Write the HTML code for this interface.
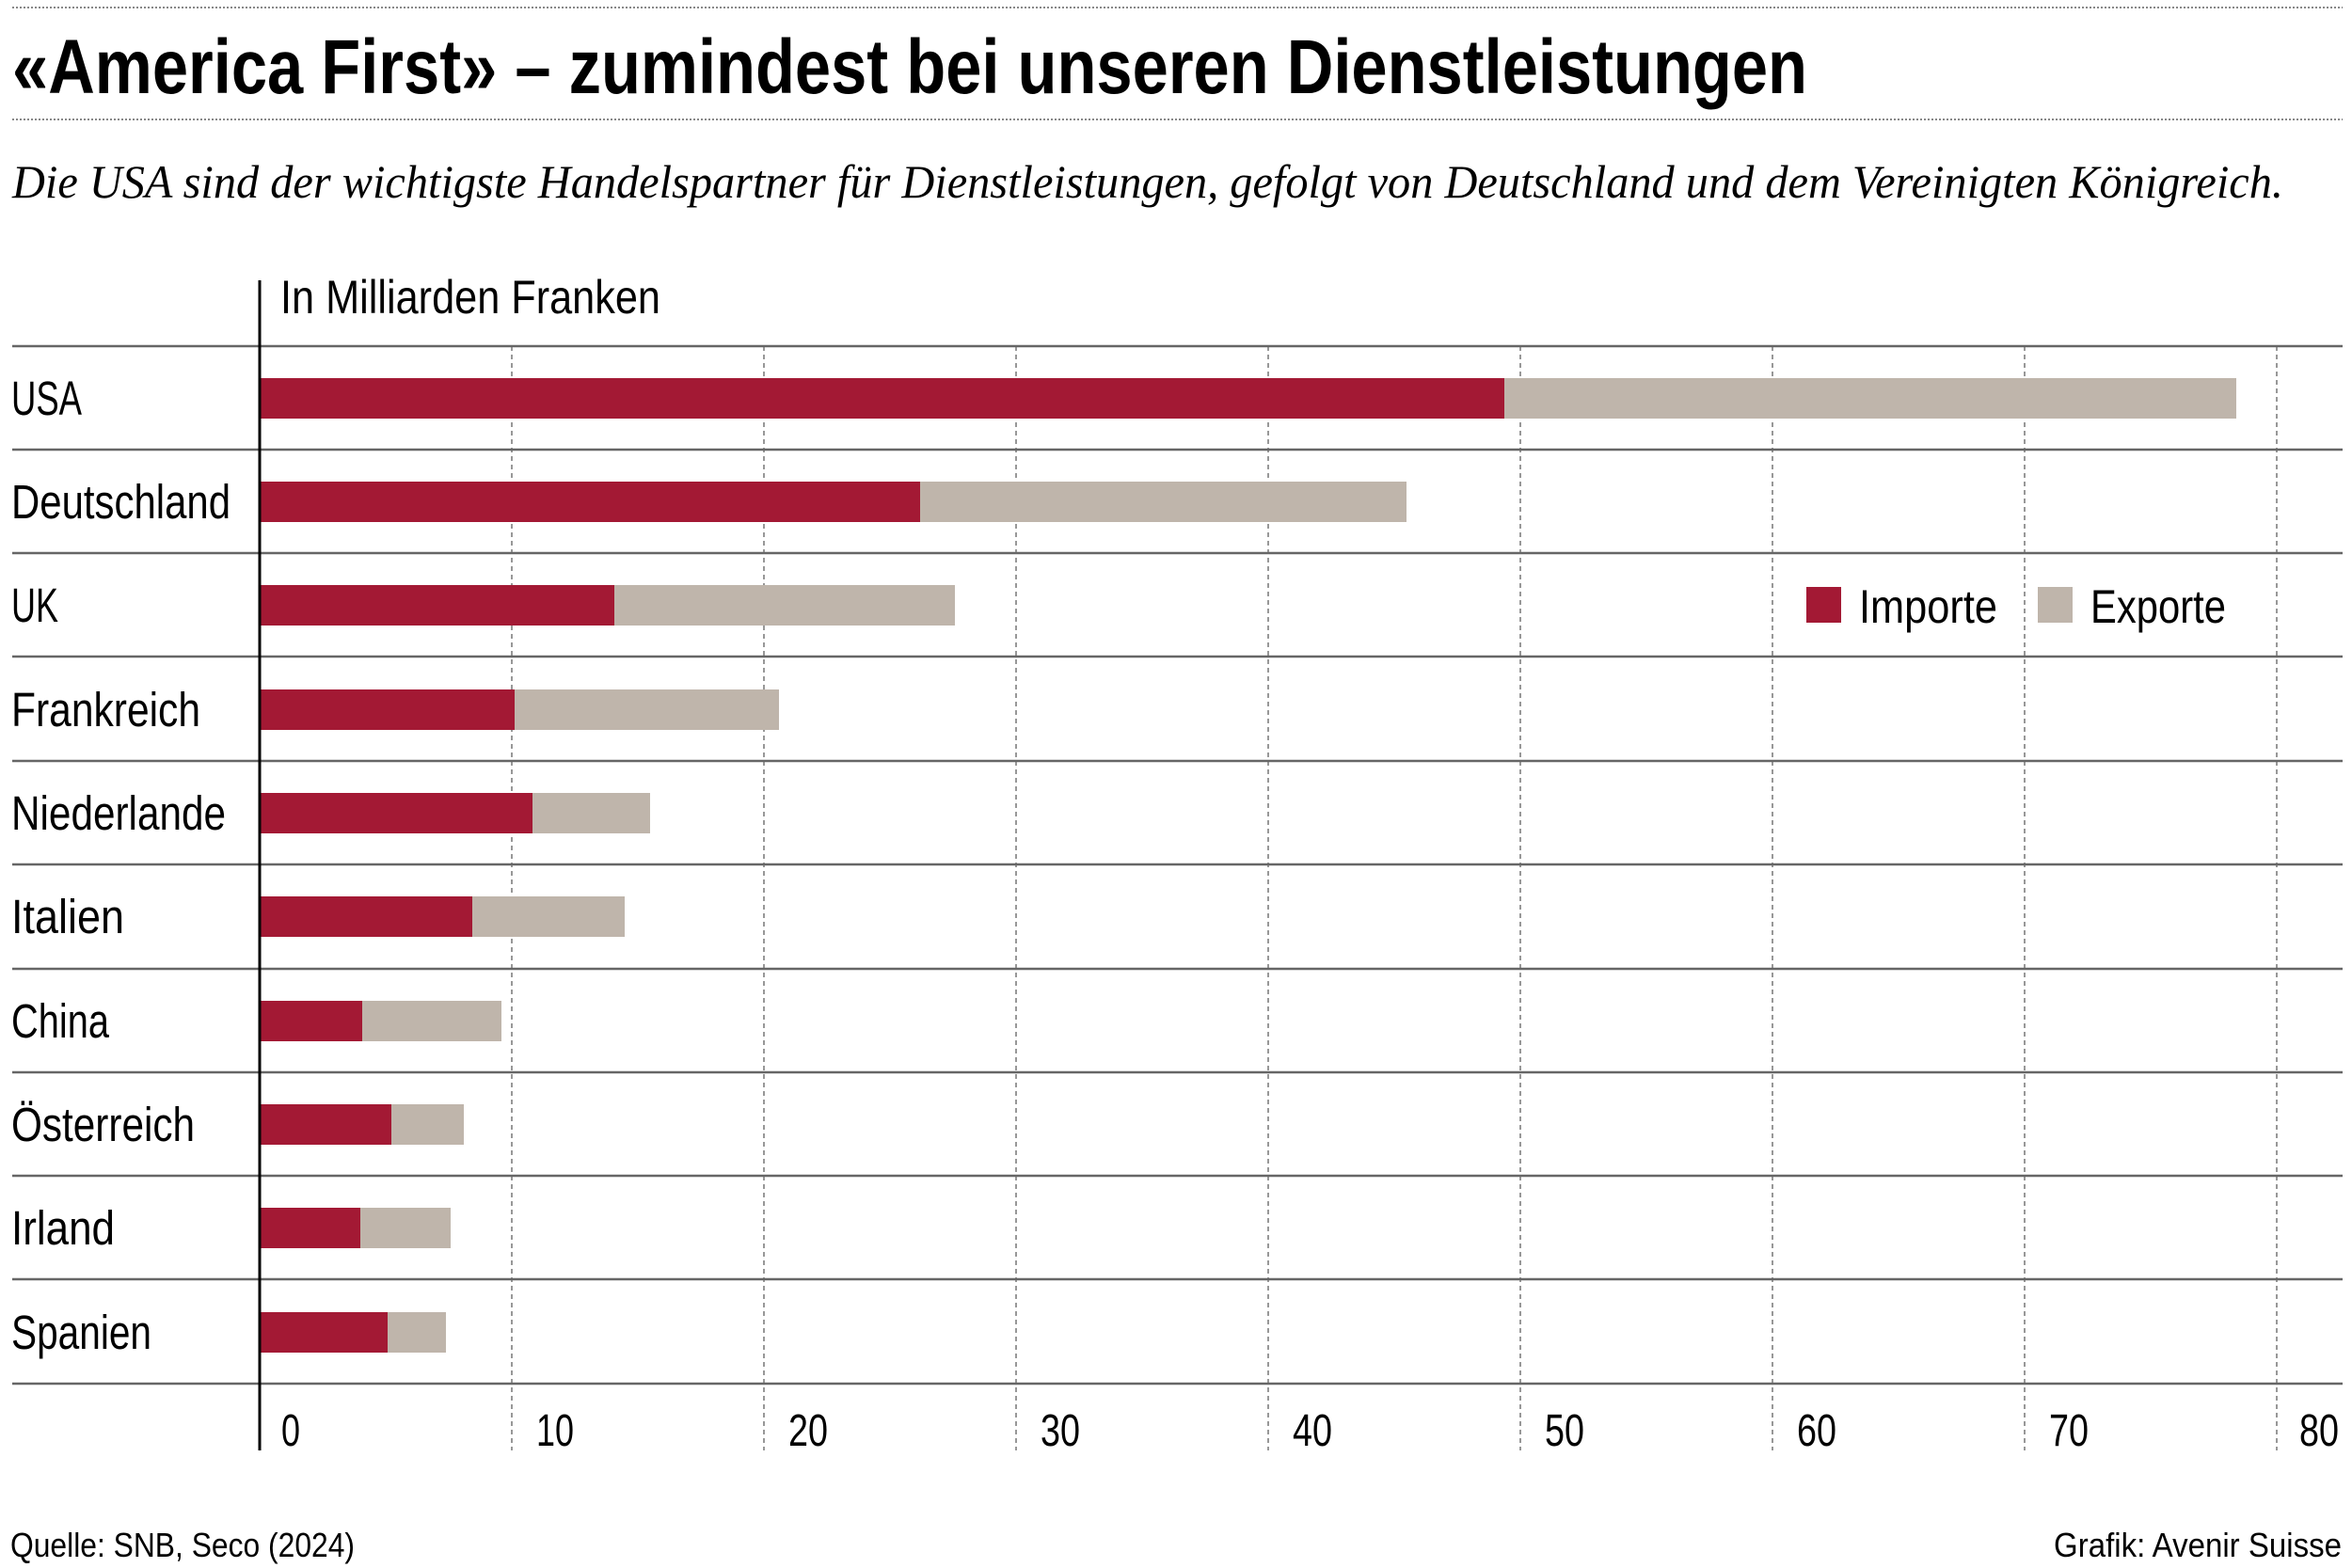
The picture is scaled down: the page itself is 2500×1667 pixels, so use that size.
<!DOCTYPE html>
<html><head><meta charset="utf-8"><style>
html,body{margin:0;padding:0;background:#fff;}
svg{display:block;}
.c{font-family:"Liberation Sans Narrow","Liberation Sans",sans-serif;fill:#000;}
</style></head><body>
<svg width="2500" height="1667" viewBox="0 0 2500 1667" xmlns="http://www.w3.org/2000/svg">
<line x1="13" y1="8" x2="2490" y2="8" stroke="#888" stroke-width="2" stroke-dasharray="2,2"/>
<text class="c" x="13" y="99" font-size="82" font-weight="bold" textLength="1908" lengthAdjust="spacingAndGlyphs">«America First» – zumindest bei unseren Dienstleistungen</text>
<line x1="13" y1="127" x2="2490" y2="127" stroke="#888" stroke-width="2" stroke-dasharray="2,2"/>
<text x="13" y="210" font-family="Liberation Serif,serif" font-style="italic" font-size="50" textLength="2414" lengthAdjust="spacingAndGlyphs">Die USA sind der wichtigste Handelspartner für Dienstleistungen, gefolgt von Deutschland und dem Vereinigten Königreich.</text>
<text class="c" x="298" y="333" font-size="50" textLength="404" lengthAdjust="spacingAndGlyphs">In Milliarden Franken</text>
<g stroke="#777" stroke-width="1.5" stroke-dasharray="5,4">
<line x1="544" y1="368" x2="544" y2="1542"/><line x1="812" y1="368" x2="812" y2="1542"/>
<line x1="1080" y1="368" x2="1080" y2="1542"/><line x1="1348" y1="368" x2="1348" y2="1542"/>
<line x1="1616" y1="368" x2="1616" y2="1542"/><line x1="1884" y1="368" x2="1884" y2="1542"/>
<line x1="2152" y1="368" x2="2152" y2="1542"/><line x1="2420" y1="368" x2="2420" y2="1542"/>
</g>
<g stroke="#666" stroke-width="2.5">
<line x1="13" y1="368" x2="2490" y2="368"/><line x1="13" y1="478" x2="2490" y2="478"/>
<line x1="13" y1="588" x2="2490" y2="588"/><line x1="13" y1="698" x2="2490" y2="698"/>
<line x1="13" y1="809" x2="2490" y2="809"/><line x1="13" y1="919" x2="2490" y2="919"/>
<line x1="13" y1="1030" x2="2490" y2="1030"/><line x1="13" y1="1140" x2="2490" y2="1140"/>
<line x1="13" y1="1250" x2="2490" y2="1250"/><line x1="13" y1="1360" x2="2490" y2="1360"/>
<line x1="13" y1="1471" x2="2490" y2="1471"/>
</g>
<g>
<rect x="276" y="402" width="1323" height="43" fill="#a31934"/><rect x="1599" y="402" width="778" height="43" fill="#bfb5ab"/>
<rect x="276" y="512" width="702" height="43" fill="#a31934"/><rect x="978" y="512" width="517" height="43" fill="#bfb5ab"/>
<rect x="276" y="622" width="377" height="43" fill="#a31934"/><rect x="653" y="622" width="362" height="43" fill="#bfb5ab"/>
<rect x="276" y="733" width="271" height="43" fill="#a31934"/><rect x="547" y="733" width="281" height="43" fill="#bfb5ab"/>
<rect x="276" y="843" width="290" height="43" fill="#a31934"/><rect x="566" y="843" width="125" height="43" fill="#bfb5ab"/>
<rect x="276" y="953" width="226" height="43" fill="#a31934"/><rect x="502" y="953" width="162" height="43" fill="#bfb5ab"/>
<rect x="276" y="1064" width="109" height="43" fill="#a31934"/><rect x="385" y="1064" width="148" height="43" fill="#bfb5ab"/>
<rect x="276" y="1174" width="140" height="43" fill="#a31934"/><rect x="416" y="1174" width="77" height="43" fill="#bfb5ab"/>
<rect x="276" y="1284" width="107" height="43" fill="#a31934"/><rect x="383" y="1284" width="96" height="43" fill="#bfb5ab"/>
<rect x="276" y="1395" width="136" height="43" fill="#a31934"/><rect x="412" y="1395" width="62" height="43" fill="#bfb5ab"/>
</g>
<line x1="276" y1="298" x2="276" y2="1542" stroke="#000" stroke-width="3"/>
<g class="c" font-size="51">
<text x="12" y="441" textLength="75" lengthAdjust="spacingAndGlyphs">USA</text>
<text x="12" y="551" textLength="233" lengthAdjust="spacingAndGlyphs">Deutschland</text>
<text x="12" y="661" textLength="50" lengthAdjust="spacingAndGlyphs">UK</text>
<text x="12" y="772" textLength="201" lengthAdjust="spacingAndGlyphs">Frankreich</text>
<text x="12" y="882" textLength="228" lengthAdjust="spacingAndGlyphs">Niederlande</text>
<text x="12" y="992" textLength="120" lengthAdjust="spacingAndGlyphs">Italien</text>
<text x="12" y="1103" textLength="104" lengthAdjust="spacingAndGlyphs">China</text>
<text x="12" y="1213" textLength="195" lengthAdjust="spacingAndGlyphs">Österreich</text>
<text x="12" y="1323" textLength="110" lengthAdjust="spacingAndGlyphs">Irland</text>
<text x="12" y="1434" textLength="149" lengthAdjust="spacingAndGlyphs">Spanien</text>
</g>
<g class="c" font-size="48">
<text x="299" y="1537" textLength="20" lengthAdjust="spacingAndGlyphs">0</text>
<text x="570" y="1537" textLength="40" lengthAdjust="spacingAndGlyphs">10</text>
<text x="838" y="1537" textLength="42" lengthAdjust="spacingAndGlyphs">20</text>
<text x="1106" y="1537" textLength="42" lengthAdjust="spacingAndGlyphs">30</text>
<text x="1374" y="1537" textLength="42" lengthAdjust="spacingAndGlyphs">40</text>
<text x="1642" y="1537" textLength="42" lengthAdjust="spacingAndGlyphs">50</text>
<text x="1910" y="1537" textLength="42" lengthAdjust="spacingAndGlyphs">60</text>
<text x="2178" y="1537" textLength="42" lengthAdjust="spacingAndGlyphs">70</text>
<text x="2444" y="1537" textLength="42" lengthAdjust="spacingAndGlyphs">80</text>
</g>
<rect x="1920" y="624" width="37" height="38" fill="#a31934"/>
<text class="c" x="1976" y="662" font-size="50" textLength="147" lengthAdjust="spacingAndGlyphs">Importe</text>
<rect x="2166" y="624" width="37" height="38" fill="#bfb5ab"/>
<text class="c" x="2222" y="662" font-size="50" textLength="144" lengthAdjust="spacingAndGlyphs">Exporte</text>
<text class="c" x="11" y="1655" font-size="36" textLength="366" lengthAdjust="spacingAndGlyphs">Quelle: SNB, Seco (2024)</text>
<text class="c" x="2183" y="1655" font-size="36" textLength="306" lengthAdjust="spacingAndGlyphs">Grafik: Avenir Suisse</text>
</svg>
</body></html>
